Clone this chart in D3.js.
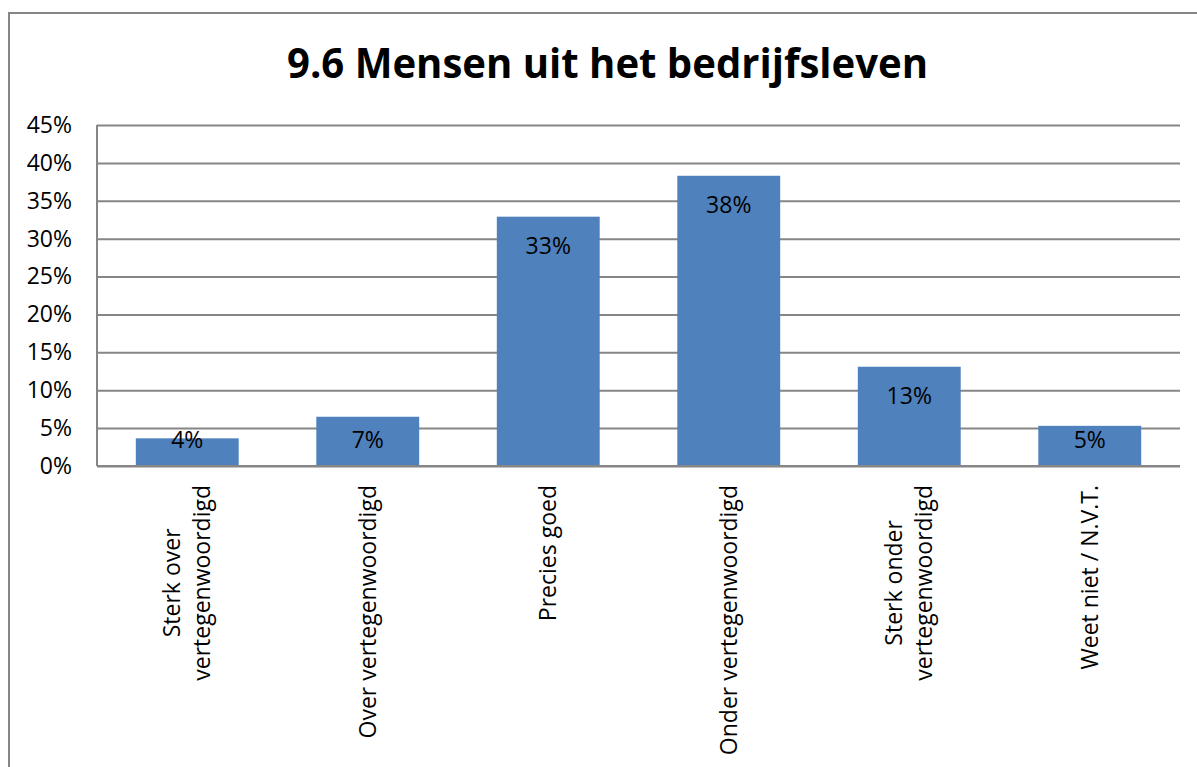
<!DOCTYPE html>
<html>
<head>
<meta charset="utf-8">
<script src="https://cdnjs.cloudflare.com/ajax/libs/d3/7.8.5/d3.min.js"></script>
<style>
  html, body { margin: 0; padding: 0; background: #fff; }
  svg { display: block; font-family: "Open Sans", sans-serif; }
</style>
</head>
<body>
<svg id="chart" width="1197" height="767"></svg>
<script>
// chart data
var categories = [
    'Sterk over\nvertegenwoordigd',
    'Over vertegenwoordigd',
    'Precies goed',
    'Onder vertegenwoordigd',
    'Sterk onder\nvertegenwoordigd',
    'Weet niet / N.V.T.'
];
var values = [3.65, 6.5, 32.9, 38.3, 13.1, 5.3];
var valueLabels = ['4%', '7%', '33%', '38%', '13%', '5%'];
var yTicks = [0, 5, 10, 15, 20, 25, 30, 35, 40, 45];
var title = '9.6 Mensen uit het bedrijfsleven';

var svg = d3.select('#chart');
var plot = { left: 97, right: 1180, top: 125, bottom: 466 };
var gridColor = '#868686';

// outer frame
svg.append('rect')
    .attr('x', 9).attr('y', 13)
    .attr('width', 1300).attr('height', 900)
    .attr('fill', '#fff')
    .attr('stroke', gridColor)
    .attr('stroke-width', 2);

// title
svg.append('text')
    .attr('x', 607.5).attr('y', 78)
    .attr('text-anchor', 'middle')
    .attr('font-size', 41)
    .attr('font-weight', 'bold')
    .attr('textLength', 641)
    .attr('lengthAdjust', 'spacingAndGlyphs')
    .text(title);

var x = d3.scaleBand()
    .domain(categories)
    .range([plot.left, plot.right])
    .paddingInner(0.43)
    .paddingOuter(0.215);

var y = d3.scaleLinear()
    .domain([0, 45])
    .range([plot.bottom, plot.top]);

// gridlines + y labels
var yAxis = d3.axisLeft(y)
    .tickValues(yTicks)
    .tickSize(-(plot.right - plot.left))
    .tickPadding(25)
    .tickFormat(function(d) { return d + '%'; });

var gy = svg.append('g')
    .attr('transform', 'translate(' + plot.left + ',0)')
    .call(yAxis);
gy.select('.domain').remove();
gy.selectAll('.tick line')
    .attr('stroke', gridColor)
    .attr('stroke-width', 2);
gy.selectAll('.tick text')
    .attr('font-size', 23)
    .attr('font-family', '"Open Sans", sans-serif')
    .attr('fill', '#000');

// vertical axis line
svg.append('line')
    .attr('x1', plot.left).attr('x2', plot.left)
    .attr('y1', plot.top).attr('y2', plot.bottom)
    .attr('stroke', gridColor)
    .attr('stroke-width', 2);

// bars
svg.selectAll('.bar')
    .data(values)
    .enter()
    .append('rect')
    .attr('class', 'bar')
    .attr('x', function(d, i) { return x(categories[i]); })
    .attr('width', x.bandwidth())
    .attr('y', function(d) { return y(d); })
    .attr('height', function(d) { return y(0) - y(d); })
    .attr('fill', '#4F81BD');

// baseline on top of bars
svg.append('line')
    .attr('x1', plot.left).attr('x2', plot.right)
    .attr('y1', y(0)).attr('y2', y(0))
    .attr('stroke', gridColor)
    .attr('stroke-width', 2);

// value labels
svg.selectAll('.vlabel')
    .data(values)
    .enter()
    .append('text')
    .attr('class', 'vlabel')
    .attr('x', function(d, i) { return x(categories[i]) + x.bandwidth() / 2; })
    .attr('y', function(d) { return Math.min(y(d) + 29.5, y(0) - 26); })
    .attr('dy', '0.35em')
    .attr('text-anchor', 'middle')
    .attr('font-size', 23)
    .attr('fill', '#000')
    .text(function(d, i) { return valueLabels[i]; });

// rotated category labels
var lineGap = 30;
categories.forEach(function(c) {
    var lines = c.split('\n');
    var cx = x(c) + x.bandwidth() / 2;
    var g = svg.append('g')
        .attr('transform', 'translate(' + cx + ',485) rotate(-90)');
    var texts = lines.map(function(l, i) {
        return g.append('text')
            .attr('y', (i - (lines.length - 1) / 2) * lineGap)
            .attr('dy', '0.35em')
            .attr('text-anchor', 'middle')
            .attr('font-size', 23)
            .attr('fill', '#000')
            .text(l);
    });
    var maxLen = d3.max(texts, function(t) { return t.node().getComputedTextLength(); });
    texts.forEach(function(t) { t.attr('x', -maxLen / 2); });
});
</script>
</body>
</html>
